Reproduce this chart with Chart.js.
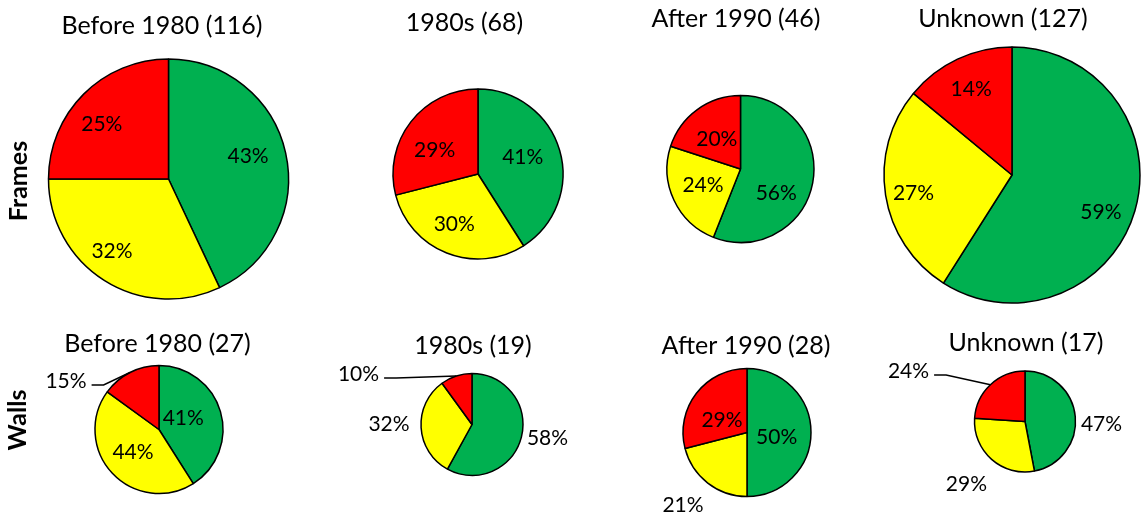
<!DOCTYPE html>
<html>
<head>
<meta charset="utf-8">
<script src="https://cdn.jsdelivr.net/npm/chart.js@4.4.1/dist/chart.umd.min.js"></script>
<style>
  html, body { margin: 0; padding: 0; background: #fff; }
  #wrap { position: relative; width: 1144px; height: 517px; overflow: hidden; }
  #wrap canvas { position: absolute; left: 0; top: 0; }
</style>
</head>
<body>
<div id="wrap"></div>
<script>
// Rating shares (percent) per construction period, for frames and walls.
const ratings = ['Green', 'Yellow', 'Red'];
const ratingColors = ['#00B050', '#FFFF00', '#FF0000'];
const groups = ['Before 1980', '1980s', 'After 1990', 'Unknown'];
const rows = ['Frames', 'Walls'];

const framesCounts = [116, 68, 46, 127];
const framesBefore1980 = [43, 32, 25];
const frames1980s = [41, 30, 29];
const framesAfter1990 = [56, 24, 20];
const framesUnknown = [59, 27, 14];

const wallsCounts = [27, 19, 28, 17];
const wallsBefore1980 = [41, 44, 15];
const walls1980s = [58, 32, 10];
const wallsAfter1990 = [50, 21, 29];
const wallsUnknown = [47, 29, 24];

const shares = [
  [framesBefore1980, frames1980s, framesAfter1990, framesUnknown],
  [wallsBefore1980, walls1980s, wallsAfter1990, wallsUnknown]
];
const counts = [framesCounts, wallsCounts];

// ---- layout ----
const W = 1144, H = 517;
const FONT = 'Lato, "Noto Sans", sans-serif';
const TITLE_SIZE = 25, LABEL_SIZE = 21, ROW_SIZE = 25;

// Pie centre/radius, title anchor and where each slice label goes:
// 'in' = inside, inset px from the rim; 'out' = outside, gap px beyond the rim;
// 'lead' = free label at an offset from the centre with a leader line.
const layout = [
  { row: 0, col: 0, cx: 168.5, cy: 179, r: 120, tx: 162, ty: 34, labels: [
    { mode: 'in', inset: 37, turn: -4 }, { mode: 'in', inset: 29, turn: 6 }, { mode: 'in', inset: 33, turn: -5 } ] },
  { row: 0, col: 1, cx: 478, cy: 174, r: 85, tx: 464.5, ty: 31, labels: [
    { mode: 'in', inset: 37, turn: -5 }, { mode: 'in', inset: 30, turn: 4 }, { mode: 'in', inset: 35, turn: -8 } ] },
  { row: 0, col: 2, cx: 740.5, cy: 169, r: 73.5, tx: 736, ty: 27, labels: [
    { mode: 'in', inset: 31, turn: 22 }, { mode: 'in', inset: 33, turn: 3 }, { mode: 'in', inset: 35, turn: -2 } ] },
  { row: 0, col: 3, cx: 1012, cy: 175, r: 128, tx: 1003, ty: 27, labels: [
    { mode: 'in', inset: 32, turn: 6 }, { mode: 'in', inset: 28, turn: -1 }, { mode: 'in', inset: 32, turn: 0 } ] },
  { row: 1, col: 0, cx: 159, cy: 429.5, r: 64, tx: 157.5, ty: 352, labels: [
    { mode: 'in', inset: 37, turn: -10 }, { mode: 'in', inset: 30, turn: 3 }, { mode: 'lead', dx: -93, dy: -49.5 } ] },
  { row: 1, col: 1, cx: 472, cy: 424.5, r: 51, tx: 473, ty: 354, labels: [
    { mode: 'out', gap: 25.5, turn: -5 }, { mode: 'out', gap: 32, turn: 4.6 }, { mode: 'lead', dx: -113.5, dy: -51.5 } ] },
  { row: 1, col: 2, cx: 747, cy: 432.5, r: 64, tx: 746, ty: 354, labels: [
    { mode: 'in', inset: 34, turn: 8.5 }, { mode: 'out', gap: 32, turn: 4 }, { mode: 'in', inset: 35.6, turn: -9.4 } ] },
  { row: 1, col: 3, cx: 1025, cy: 421.5, r: 50.5, tx: 1026, ty: 351, labels: [
    { mode: 'out', gap: 26, turn: 6.5 }, { mode: 'out', gap: 34.5, turn: 2.2 }, { mode: 'lead', dx: -116.5, dy: -51.5 } ] }
];
const rowLabelPos = [ { x: 27, y: 181 }, { x: 25.5, y: 420 } ];

// Draws the title, row caption and the percentage labels of one pie.
function piePlugin(spec, title, values) {
  return {
    id: 'pieText',
    afterDatasetsDraw(chart) {
      const ctx = chart.ctx;
      ctx.save();
      ctx.fillStyle = '#000';
      ctx.strokeStyle = '#000';

      ctx.font = `${TITLE_SIZE}px ${FONT}`;
      ctx.textAlign = 'center';
      ctx.textBaseline = 'alphabetic';
      ctx.fillText(title, spec.tx, spec.ty);

      if (spec.col === 0) {
        const p = rowLabelPos[spec.row];
        ctx.save();
        ctx.translate(p.x, p.y);
        ctx.rotate(-Math.PI / 2);
        ctx.font = `bold ${ROW_SIZE}px ${FONT}`;
        ctx.fillText(rows[spec.row], 0, 0);
        ctx.restore();
      }

      ctx.font = `${LABEL_SIZE}px ${FONT}`;
      const capHalf = LABEL_SIZE * 0.36;
      chart.getDatasetMeta(0).data.forEach((arc, i) => {
        const { x, y, startAngle, endAngle, outerRadius } =
          arc.getProps(['x', 'y', 'startAngle', 'endAngle', 'outerRadius'], true);
        const mid = (startAngle + endAngle) / 2;
        const lab = spec.labels[i];
        const text = values[i] + '%';
        let lx, ly;
        if (lab.mode === 'lead') {
          lx = x + lab.dx;
          ly = y + lab.dy;
          const w = ctx.measureText(text).width;
          const sx = lx + w / 2 + 5, sy = ly + 5;
          ctx.lineWidth = 1.5;
          ctx.beginPath();
          ctx.moveTo(sx, sy);
          ctx.lineTo(sx + 12, sy);
          ctx.lineTo(x + Math.cos(mid) * outerRadius, y + Math.sin(mid) * outerRadius);
          ctx.stroke();
        } else {
          const a = mid + (lab.turn || 0) * Math.PI / 180;
          const d = lab.mode === 'in' ? outerRadius - lab.inset : outerRadius + lab.gap;
          lx = x + Math.cos(a) * d;
          ly = y + Math.sin(a) * d;
        }
        ctx.textAlign = 'center';
        ctx.textBaseline = 'alphabetic';
        ctx.fillText(text, lx, ly + capHalf);
      });
      ctx.restore();
    }
  };
}

const wrap = document.getElementById('wrap');
layout.forEach(spec => {
  const canvas = document.createElement('canvas');
  canvas.width = W;
  canvas.height = H;
  wrap.appendChild(canvas);
  const values = shares[spec.row][spec.col];
  const title = `${groups[spec.col]} (${counts[spec.row][spec.col]})`;
  new Chart(canvas, {
    type: 'pie',
    data: {
      labels: ratings,
      datasets: [{
        data: values,
        backgroundColor: ratingColors,
        borderColor: '#000',
        borderWidth: 1.5,
        radius: spec.r
      }]
    },
    options: {
      responsive: false,
      animation: false,
      rotation: 0,
      layout: {
        padding: {
          left: spec.cx - spec.r,
          right: W - spec.cx - spec.r,
          top: spec.cy - spec.r,
          bottom: H - spec.cy - spec.r
        }
      },
      plugins: {
        legend: { display: false },
        tooltip: { enabled: false },
        title: { display: false }
      }
    },
    plugins: [piePlugin(spec, title, values)]
  });
});
</script>
</body>
</html>
